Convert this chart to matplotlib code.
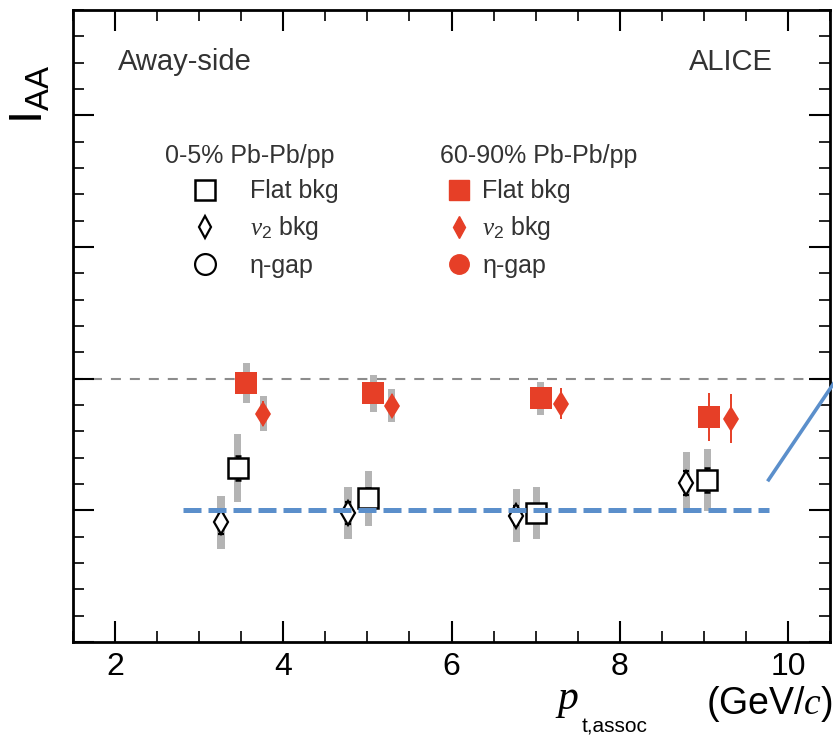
import numpy as np
import matplotlib.pyplot as plt
from matplotlib.lines import Line2D
from matplotlib.ticker import MultipleLocator

plt.rcParams['font.family'] = ['Liberation Sans', 'DejaVu Sans']
plt.rcParams['mathtext.fontset'] = 'custom'
plt.rcParams['mathtext.rm'] = 'Liberation Sans'
plt.rcParams['mathtext.it'] = 'Liberation Serif:italic'

RED = '#e63f27'
BAND = '#b4b4b4'
BLUE = '#5b8fcb'
TXT = '#333333'

# 0-5% Pb-Pb/pp, flat background
c_flat_x = [3.46, 5.01, 7.01, 9.04]
c_flat_y = [0.66, 0.545, 0.49, 0.615]
c_flat_stat = [0.045, 0.04, 0.035, 0.045]
c_flat_sys = [0.13, 0.105, 0.10, 0.117]

# 0-5% Pb-Pb/pp, v2 background
c_v2_x = [3.26, 4.77, 6.77, 8.79]
c_v2_y = [0.455, 0.49, 0.48, 0.605]
c_v2_stat = [0.045, 0.04, 0.035, 0.045]
c_v2_sys = [0.10, 0.10, 0.10, 0.117]

# 60-90% Pb-Pb/pp, flat background
p_flat_x = [3.56, 5.07, 7.06, 9.06]
p_flat_y = [0.985, 0.945, 0.925, 0.855]
p_flat_stat = [0.03, 0.03, 0.04, 0.09]
p_flat_sys = [0.076, 0.07, 0.064, 0.0]

# 60-90% Pb-Pb/pp, v2 background
p_v2_x = [3.76, 5.29, 7.30, 9.32]
p_v2_y = [0.867, 0.898, 0.905, 0.848]
p_v2_stat = [0.047, 0.045, 0.06, 0.092]
p_v2_sys = [0.066, 0.062, 0.0, 0.0]

labels = ['Flat bkg', r'$\mathit{v}_{2}$ bkg', 'η-gap']

band_w = 0.085

fig = plt.figure(figsize=(8.33, 7.38), dpi=100)
ax = fig.add_axes([73/833, 1-642/738, 757/833, 632/738])

ax.axhline(1.0, color='#8c8c8c', lw=1.5, linestyle=(0, (4.8, 4.3)), zorder=1)

# systematic bands
for xs, ys, ss in [(c_flat_x, c_flat_y, c_flat_sys), (c_v2_x, c_v2_y, c_v2_sys),
                   (p_flat_x, p_flat_y, p_flat_sys), (p_v2_x, p_v2_y, p_v2_sys)]:
    xs, ys, ss = np.array(xs), np.array(ys), np.array(ss)
    ax.bar(xs, 2*ss, bottom=ys-ss, width=band_w, color=BAND, zorder=2)

ax.errorbar(c_flat_x, c_flat_y, yerr=c_flat_stat, fmt='s', ms=15, mfc='white', mec='black',
            mew=1.8, ecolor='black', elinewidth=1.4, capsize=2.5, zorder=4)
ax.errorbar(c_v2_x, c_v2_y, yerr=c_v2_stat, fmt='d', ms=12, mfc='white', mec='black',
            mew=1.6, ecolor='black', elinewidth=1.4, capsize=2.5, zorder=4)
ax.errorbar(p_flat_x, p_flat_y, yerr=p_flat_stat, fmt='s', ms=16, color=RED, mew=0,
            elinewidth=1.4, capsize=3, zorder=4)
ax.errorbar(p_v2_x, p_v2_y, yerr=p_v2_stat, fmt='d', ms=13, color=RED, mew=0,
            elinewidth=1.4, capsize=3, zorder=4)

# guide lines
ax.plot([2.81, 9.77], [0.5, 0.5], color=BLUE, lw=3.6, linestyle=(0, (3.6, 1.4)), zorder=6)
ax.plot([9.77, 10.55], [0.616, 0.985], color=BLUE, lw=2.6, zorder=6, clip_on=False)

ax.set_xlim(1.5, 10.5)
ax.set_ylim(0, 2.4)
ax.xaxis.set_major_locator(MultipleLocator(2))
ax.xaxis.set_minor_locator(MultipleLocator(0.5))
ax.yaxis.set_major_locator(MultipleLocator(0.5))
ax.yaxis.set_minor_locator(MultipleLocator(0.1))
ax.tick_params(which='both', direction='in', top=True, right=True, labelleft=False)
ax.tick_params(which='major', length=15, width=1.5, labelsize=23, pad=7)
ax.tick_params(which='minor', length=8, width=1.2)
for sp in ax.spines.values():
    sp.set_linewidth(2)

fig.text(773/833, 1-62/738, 'ALICE', fontsize=21, color=TXT, ha='right', va='center')
fig.text(118/833, 1-62/738, 'Away-side', fontsize=21, color=TXT, ha='left', va='center')

fig.text(30/833, 1-94/738, r'$\mathregular{I_{AA}}$', fontsize=34, rotation=90,
         ha='center', va='center')

# x axis title
fig.text(555/833, 1-700/738, r'$p$', fontsize=30, ha='left', va='center')
fig.text(582/833, 1-727/738, 't,assoc', fontsize=15, ha='left', va='center')
fig.text(833/833, 1-704/738, r'(GeV/$c$)', fontsize=27, ha='right', va='center')

h_c = [Line2D([], [], ls='', marker='s', ms=15, mfc='white', mec='black', mew=1.8),
       Line2D([], [], ls='', marker='d', ms=11, mfc='white', mec='black', mew=1.6),
       Line2D([], [], ls='', marker='o', ms=15, mfc='white', mec='black', mew=1.6)]
h_p = [Line2D([], [], ls='', marker='s', ms=14, color=RED),
       Line2D([], [], ls='', marker='d', ms=11, color=RED),
       Line2D([], [], ls='', marker='o', ms=14, color=RED)]

leg1 = ax.legend(h_c, labels, title='0-5% Pb-Pb/pp', loc='upper left',
                 bbox_to_anchor=((165-73)/757, (642-144)/632), frameon=False,
                 fontsize=18, title_fontsize=18, alignment='left', handlelength=3.2,
                 handletextpad=0.2, labelspacing=0.45, borderpad=0, borderaxespad=0)
ax.add_artist(leg1)
leg2 = ax.legend(h_p, labels, title='60-90% Pb-Pb/pp', loc='upper left',
                 bbox_to_anchor=((440-73)/757, (642-144)/632), frameon=False,
                 fontsize=18, title_fontsize=18, alignment='left', handlelength=1.5,
                 handletextpad=0.2, labelspacing=0.45, borderpad=0, borderaxespad=0)
for leg in (leg1, leg2):
    for t in leg.get_texts():
        t.set_color(TXT)
    leg.get_title().set_color(TXT)

fig.savefig('out.png', dpi=100)
